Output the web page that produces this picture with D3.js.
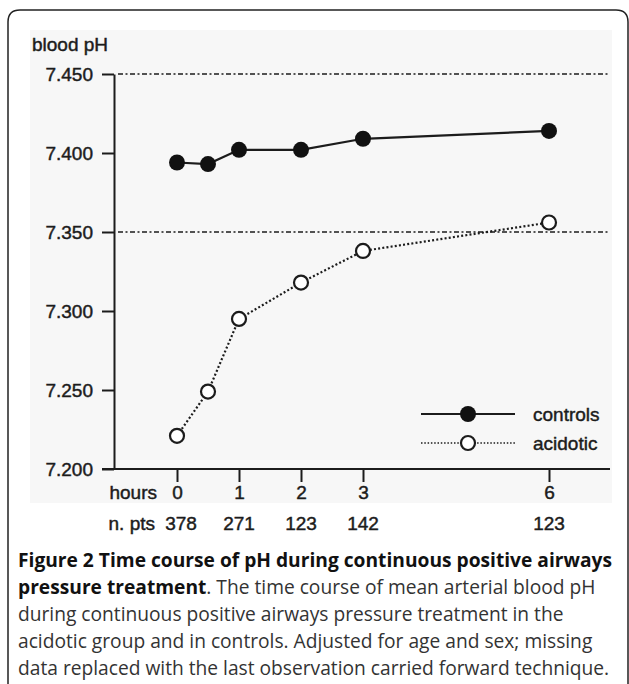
<!DOCTYPE html>
<html>
<head>
<meta charset="utf-8">
<script src="https://cdn.jsdelivr.net/npm/d3@7"></script>
<style>
  body { margin: 0; background: #fff; }
  svg { display: block; }
</style>
</head>
<body>
<svg width="629" height="684"></svg>
<script>
const hours = [0, 0.5, 1, 2, 3, 6];
const controls = [7.394, 7.393, 7.402, 7.402, 7.409, 7.414];
const acidotic = [7.221, 7.249, 7.295, 7.318, 7.338, 7.356];
const tickHours = [0, 1, 2, 3, 6];
const nPts = [378, 271, 123, 142, 123];
const yTicks = [7.2, 7.25, 7.3, 7.35, 7.4, 7.45];
const refLines = [7.45, 7.35];

const svg = d3.select("svg");
const ink = "#1c1c1c";
const chartFont = "'Liberation Sans', Arial, sans-serif";

// small helper: the scanned labels look a bit heavier than plain regular
const label = sel => sel
  .attr("font-family", chartFont).attr("font-size", 19)
  .attr("fill", ink).attr("stroke", ink).attr("stroke-width", 0.45);

// frame of the figure box
svg.append("path")
  .attr("d", "M8,684 V22 Q8,10 20,10 H616 Q628,10 628,22 V684")
  .attr("fill", "none")
  .attr("stroke", "#222")
  .attr("stroke-width", 1.5);

// scanned plot has a faint grey backdrop
svg.append("rect")
  .attr("x", 30).attr("y", 30)
  .attr("width", 582).attr("height", 473)
  .attr("fill", "#f7f7f7");

const x = d3.scaleLinear().domain([0, 6]).range([177, 549]);
const y = d3.scaleLinear().domain([7.2, 7.45]).range([469, 74]);
const axisX = 114;
const right = 610;

svg.append("text")
  .attr("x", 32).attr("y", 51)
  .call(label)
  .text("blood pH");

// reference lines
svg.append("g").selectAll("line")
  .data(refLines).join("line")
  .attr("x1", axisX + 4).attr("x2", right)
  .attr("y1", d => y(d)).attr("y2", d => y(d))
  .attr("stroke", ink).attr("stroke-width", 1.6)
  .attr("stroke-dasharray", "5,2.5,2,2.5");

// y axis
const gy = svg.append("g")
  .attr("transform", `translate(${axisX},0)`)
  .call(d3.axisLeft(y).tickValues(yTicks).tickFormat(d3.format(".3f"))
    .tickSize(12).tickSizeOuter(0).tickPadding(9));
gy.select(".domain").attr("stroke", ink).attr("stroke-width", 2);
gy.selectAll(".tick line").attr("stroke", ink).attr("stroke-width", 2);
gy.selectAll(".tick text").call(label);

// x axis
const gx = svg.append("g")
  .attr("transform", `translate(0,${y(7.2)})`)
  .call(d3.axisBottom(x).tickValues(tickHours).tickFormat(d3.format("d"))
    .tickSize(13).tickPadding(4));
gx.select(".domain").remove();
gx.append("line")
  .attr("x1", axisX - 12).attr("x2", right)
  .attr("stroke", ink).attr("stroke-width", 2);
gx.selectAll(".tick line").attr("stroke", ink).attr("stroke-width", 2);
gx.selectAll(".tick text").call(label);

svg.append("text")
  .attr("x", x(0) - 20).attr("y", 499)
  .attr("text-anchor", "end")
  .call(label)
  .text("hours");

// n. pts row
svg.append("text")
  .attr("x", x(0) - 22).attr("y", 530)
  .attr("text-anchor", "end")
  .call(label)
  .text("n. pts");
svg.append("g").selectAll("text")
  .data(nPts).join("text")
  .attr("x", (d, i) => x(tickHours[i]) + (i === 0 ? 4 : 0))
  .attr("y", 530)
  .attr("text-anchor", "middle")
  .call(label)
  .text(d => d);

// series
const line = d3.line().x(d => x(d[0])).y(d => y(d[1]));
const ctrlPts = hours.map((h, i) => [h, controls[i]]);
const acidPts = hours.map((h, i) => [h, acidotic[i]]);

svg.append("path")
  .datum(acidPts)
  .attr("d", line)
  .attr("fill", "none").attr("stroke", ink)
  .attr("stroke-width", 2.2).attr("stroke-dasharray", "2,2.2");
svg.append("path")
  .datum(ctrlPts)
  .attr("d", line)
  .attr("fill", "none").attr("stroke", ink).attr("stroke-width", 2.2);

svg.append("g").selectAll("circle")
  .data(acidPts).join("circle")
  .attr("cx", d => x(d[0])).attr("cy", d => y(d[1]))
  .attr("r", 7)
  .attr("fill", "#fff").attr("stroke", ink).attr("stroke-width", 2.2);
svg.append("g").selectAll("circle")
  .data(ctrlPts).join("circle")
  .attr("cx", d => x(d[0])).attr("cy", d => y(d[1]))
  .attr("r", 8)
  .attr("fill", "#111");

// legend
const legend = svg.append("g").attr("transform", "translate(421,414)");
legend.append("line").attr("x1", 0).attr("x2", 94)
  .attr("stroke", ink).attr("stroke-width", 2.2);
legend.append("circle").attr("cx", 47).attr("r", 8).attr("fill", "#111");
legend.append("text").attr("x", 112).attr("y", 7)
  .call(label)
  .text("controls");
legend.append("line").attr("x1", 0).attr("x2", 94)
  .attr("y1", 29).attr("y2", 29)
  .attr("stroke", ink).attr("stroke-width", 1.4).attr("stroke-dasharray", "1.5,1.8");
legend.append("circle").attr("cx", 47).attr("cy", 29).attr("r", 7)
  .attr("fill", "#fff").attr("stroke", ink).attr("stroke-width", 2.2);
legend.append("text").attr("x", 112).attr("y", 36)
  .call(label)
  .text("acidotic");

// caption
const capFont = "'Open Sans', sans-serif";
const caption = svg.append("text")
  .attr("font-family", capFont).attr("font-size", 19.2).attr("fill", "#333");
const capLines = [
  [["Figure 2 Time course of pH during continuous positive airways", true]],
  [["pressure treatment", true], [". The time course of mean arterial blood pH", false]],
  [["during continuous positive airways pressure treatment in the", false]],
  [["acidotic group and in controls. Adjusted for age and sex; missing", false]],
  [["data replaced with the last observation carried forward technique.", false]]
];
capLines.forEach((parts, i) => {
  parts.forEach((p, j) => {
    const t = caption.append("tspan").text(p[0])
      .attr("font-weight", p[1] ? "bold" : "normal")
      .attr("fill", p[1] ? "#111" : "#333");
    if (j === 0) t.attr("x", 18).attr("y", 567 + i * 27);
  });
});
</script>
</body>
</html>
